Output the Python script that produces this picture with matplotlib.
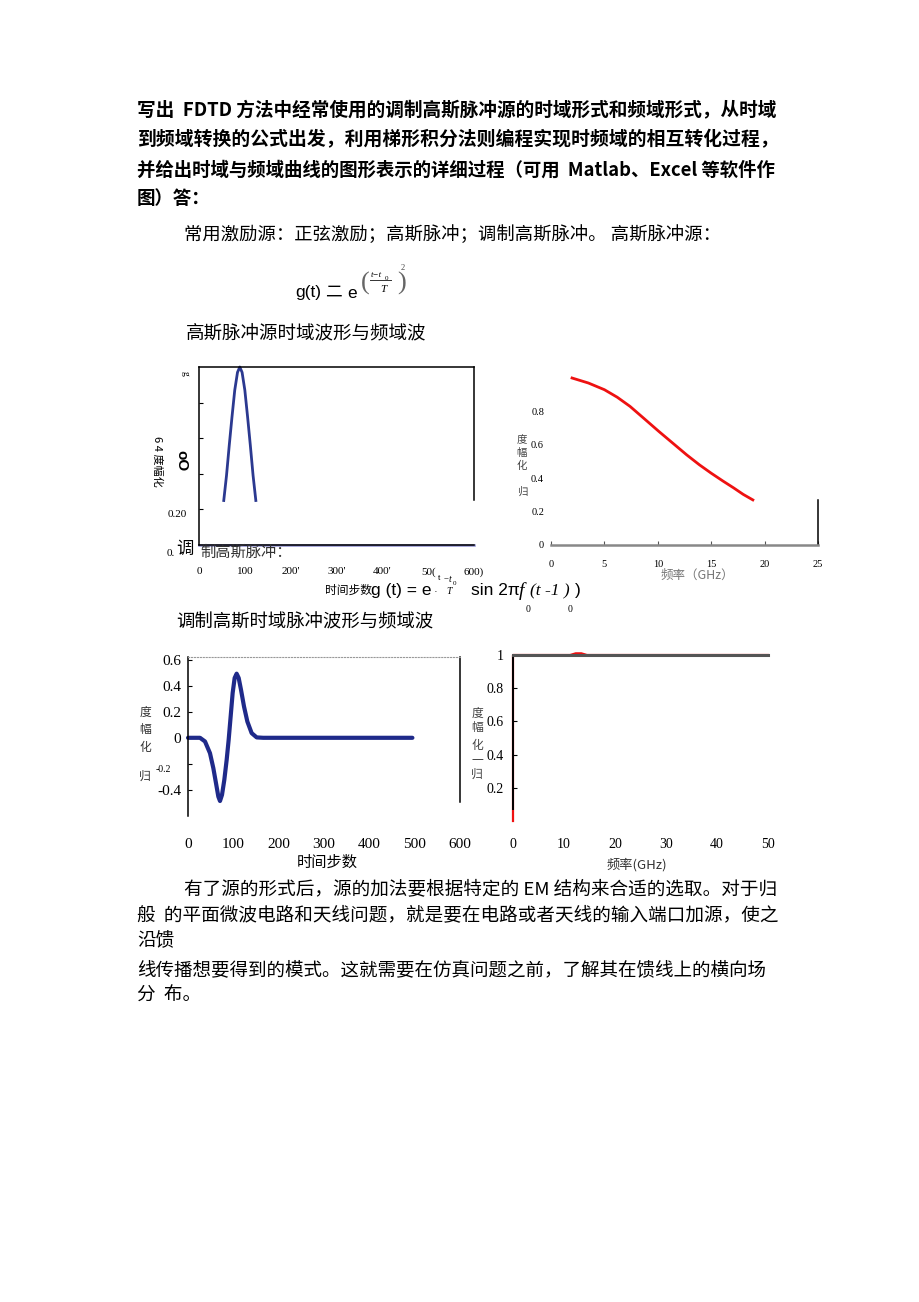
import matplotlib
matplotlib.use('Agg')
import matplotlib.pyplot as plt
from matplotlib.lines import Line2D

W, H = 920, 1302
CJK = ['Noto Sans CJK SC', 'DejaVu Sans']
SERIF = ['Liberation Serif', 'DejaVu Serif']
SANS = ['Liberation Sans', 'DejaVu Sans']

# ---------------- data ----------------
# chart 1: Gaussian pulse, time domain (visible part above ~0.25)
gauss_t = [54, 60, 66, 72, 78, 84, 89, 94, 100, 106, 112, 118, 124]
gauss_v = [0.25, 0.39, 0.56, 0.72, 0.87, 0.97, 1.0, 0.97, 0.87, 0.72, 0.56, 0.39, 0.25]
tail_t = [0, 600]
tail_v = [0.0, 0.0]
time_ticks_1 = [0, 100, 200, 300, 400, 500, 600]
time_labels_1 = ['0', '100', "200'", "300'", "400'", '50(', '600)']

# chart 2: Gaussian pulse, frequency domain
freq_2 = [1.97, 3.5, 5.0, 6.2, 7.4, 8.7, 10.1, 11.4, 12.7, 13.9, 15.0, 16.1, 17.1, 18.0, 18.9]
amp_2 = [1.0, 0.97, 0.93, 0.885, 0.83, 0.758, 0.68, 0.61, 0.54, 0.48, 0.43, 0.383, 0.342, 0.303, 0.27]
freq_ticks_2 = [0, 5, 10, 15, 20, 25]
amp_ticks_2 = [0, 0.2, 0.4, 0.6, 0.8]
amp_labels_2 = ['0', '0.2', '0.4', '0.6', '0.8']

# chart 3: modulated Gaussian, time domain
mod_t = [0, 26.5, 37.5, 48.5, 55.9, 61.8, 66.9, 70.6, 75.0, 80.1, 85.3, 89.7, 94.1,
         98.5, 102.9, 107.3, 111.8, 116.9, 123.5, 130.9, 140.4, 151.5, 166, 495]
mod_v = [0, 0, -0.028, -0.118, -0.233, -0.349, -0.451, -0.485, -0.438, -0.323, -0.169,
         -0.015, 0.164, 0.344, 0.459, 0.492, 0.459, 0.369, 0.241, 0.125, 0.036, 0.003, 0, 0]
time_ticks_3 = [0, 100, 200, 300, 400, 500, 600]
amp_ticks_3 = [0.6, 0.4, 0.2, 0, -0.2, -0.4]
amp_labels_3 = ['0.6', '0.4', '0.2', '0', '', '-0.4']

# chart 4: modulated Gaussian, frequency domain
black_f = [0, 50]
black_v = [1.0, 1.0]
red_f = [0, 0, 11.2, 12.3, 13.4, 14.5, 50]
red_v = [0.0, 1.0, 1.0, 1.01, 1.01, 1.0, 1.0]
freq_ticks_4 = [0, 10, 20, 30, 40, 50]
amp_ticks_4 = [0.2, 0.4, 0.6, 0.8, 1.0]
amp_labels_4 = ['0.2', '0.4', '0.6', '0.8', '1']

# ---------------- figure ----------------
fig = plt.figure(figsize=(W / 100, H / 100), dpi=100)
fig.patch.set_facecolor('white')
renderer = fig.canvas.get_renderer()


def txt(x, y, s, size, family=CJK, ha='left', va='center', **kw):
    return fig.text(x / W, 1 - y / H, s, fontsize=size, family=family, ha=ha, va=va, **kw)


def fit(t, width):
    bb = t.get_window_extent(renderer)
    t.set_fontsize(t.get_fontsize() * width / bb.width)
    return t.get_fontsize()


def axes_px(x0, y0, x1, y1):
    return fig.add_axes([x0 / W, 1 - y1 / H, (x1 - x0) / W, (y1 - y0) / H])


def hline(x0, x1, y, lw=0.8, color='#333'):
    fig.add_artist(Line2D([x0 / W, x1 / W], [1 - y / H, 1 - y / H],
                          transform=fig.transFigure, lw=lw, color=color))


# ---------------- body text ----------------
t1 = txt(137, 111, '写出  FDTD 方法中经常使用的调制高斯脉冲源的时域形式和频域形式，从时域', 13, weight='bold')
fit(t1, 638)
t2 = txt(137, 140, '到频域转换的公式出发，利用梯形积分法则编程实现时频域的相互转化过程，', 13, weight='bold')
fit(t2, 638)
t3 = txt(137, 170, '并给出时域与频域曲线的图形表示的详细过程（可用  Matlab、Excel 等软件作', 13, weight='bold')
s3 = fit(t3, 638)
txt(137, 199, '图）答：', s3, weight='bold')

t5 = txt(184, 235, '常用激励源：正弦激励；高斯脉冲；调制高斯脉冲。 高斯脉冲源：', 13)
fit(t5, 534)

# formula g(t) = e^((t-t0)/T)^2
txt(295, 292, 'g(t)', 12.5, SANS)
txt(325, 292, '二', 12)
txt(347, 294, 'e', 12.5, SANS)
txt(361, 283, '(', 19, SERIF, color='#666')
txt(397, 283, ')', 19, SERIF, color='#666')
txt(371, 275, 't−t', 6.5, SERIF, style='italic')
txt(385, 278, '0', 5, SERIF)
hline(370, 391, 280, lw=0.7)
txt(380, 290, 'T', 8, SERIF, style='italic')
txt(401, 268, '2', 6, SERIF, color='#444')

tc1 = txt(186, 333, '高斯脉冲源时域波形与频域波', 13)
fit(tc1, 240)

# ---------------- chart 1 ----------------
ax1 = axes_px(199, 367, 474, 545)
ax1.set_xlim(0, 600)
ax1.set_ylim(0, 1)
ax1.plot(tail_t, tail_v, color='#8f8fd0', lw=1.8, clip_on=False)
ax1.plot(gauss_t, gauss_v, color='#2b3990', lw=2, clip_on=False)
for s in ax1.spines.values():
    s.set_linewidth(1.1)
ax1.spines['right'].set_bounds(0.25, 1)
ax1.set_xticks(time_ticks_1)
ax1.set_xticklabels(time_labels_1, family=SERIF, fontsize=8)
ax1.tick_params(axis='x', length=0, pad=16)
ax1.set_yticks([0.2, 0.4, 0.6, 0.8])
ax1.set_yticklabels([])
ax1.tick_params(axis='y', direction='in', length=3, width=0.8)

txt(185, 373, 'g', 7, SERIF, ha='center', rotation=270)
txt(157, 461, '6 4 度幅化', 8, CJK, ha='center', rotation=270)
txt(181, 461, 'oO', 11, SANS, ha='center', rotation=270, weight='bold')
txt(187, 515, '0.20', 8, SERIF, ha='right')
txt(175, 553, '0.', 8, SERIF, ha='right')
txt(176, 549, '调', 12.5)
txt(200, 552, '制高斯脉冲：', 11, color='#333')

# formula line under chart 1
txt(325, 590, '时间步数', 8.5)
txt(371, 590, 'g (t) = e', 12.5, SANS)
txt(434, 592, '·', 8, SANS)
txt(438, 578, 't', 6, SANS)
txt(444, 580, '~', 6, SANS)
txt(449, 579, 't', 7, SERIF, style='italic')
txt(453, 583, '0', 5, SERIF)
txt(446, 592, 'T', 7, SERIF, style='italic')
txt(471, 590, 'sin 2π', 12.5, SANS)
txt(519, 591, 'f', 14, SERIF, style='italic')
txt(530, 591, '(t -1 )', 12.5, SERIF, style='italic')
txt(575, 591, ')', 12.5, SANS)
txt(526, 609, '0', 7, SERIF)
txt(568, 609, '0', 7, SERIF)

# ---------------- chart 2 ----------------
ax2 = axes_px(551, 378, 818, 545)
ax2.set_xlim(0, 25)
ax2.set_ylim(0, 1)
ax2.plot(freq_2, amp_2, color='#ee1111', lw=2, clip_on=False)
ax2.spines['left'].set_visible(False)
ax2.spines['top'].set_visible(False)
ax2.spines['right'].set_bounds(0, 0.27)
ax2.spines['right'].set_linewidth(1.1)
ax2.spines['bottom'].set_color('#888888')
ax2.spines['bottom'].set_linewidth(1.8)
ax2.set_xticks(freq_ticks_2)
ax2.set_xticklabels([str(v) for v in freq_ticks_2], family=SERIF, fontsize=7.5)
ax2.tick_params(axis='x', direction='in', length=3, width=0.8, color='#555', pad=11)
ax2.set_yticks(amp_ticks_2)
ax2.set_yticklabels(amp_labels_2, family=SERIF, fontsize=7.5)
ax2.tick_params(axis='y', length=0, pad=5)
for ch, yy in zip('度幅化归', [440, 453, 466, 492]):
    txt(522, yy, ch, 7.5, ha='center', color='#444')
txt(697, 575, '频率（GHz）', 9, ha='center', color='#777')

# ---------------- caption 2 ----------------
tc2 = txt(176, 622, '调制高斯时域脉冲波形与频域波', 13)
fit(tc2, 256)

# ---------------- chart 3 ----------------
ax3 = axes_px(188, 657, 460, 816)
ax3.set_xlim(0, 600)
ax3.set_ylim(-0.6, 0.62)
ax3.plot(mod_t, mod_v, color='#1f2a8a', lw=3, clip_on=False, solid_capstyle='round')
ax3.spines['bottom'].set_visible(False)
ax3.spines['top'].set_linestyle(':')
ax3.spines['top'].set_color('#999999')
ax3.spines['right'].set_bounds(-0.49, 0.62)
ax3.spines['right'].set_linewidth(1.1)
ax3.spines['left'].set_linewidth(1.1)
ax3.set_xticks(time_ticks_3)
ax3.set_xticklabels([str(v) for v in time_ticks_3], family=SERIF, fontsize=11)
ax3.tick_params(axis='x', length=0, pad=16)
ax3.set_yticks(amp_ticks_3)
ax3.set_yticklabels(amp_labels_3, family=SERIF, fontsize=11)
ax3.tick_params(axis='y', direction='in', length=3, width=0.8, pad=5)
for ch, yy in zip('度幅化归', [712, 729, 747, 776]):
    txt(145, yy, ch, 8.5, ha='center', color='#333')
txt(156, 770, '-0.2', 7, SERIF)
txt(327, 862, '时间步数', 11, ha='center')

# ---------------- chart 4 ----------------
ax4 = axes_px(513, 655, 768, 821)
ax4.set_xlim(0, 50)
ax4.set_ylim(0, 1)
ax4.plot(red_f, red_v, color='#ee1111', lw=1.6, clip_on=False, zorder=1)
ax4.plot(black_f, black_v, color='#555555', lw=2.2, clip_on=False, zorder=3)
ax4.spines['right'].set_visible(False)
ax4.spines['bottom'].set_visible(False)
ax4.spines['top'].set_linestyle(':')
ax4.spines['top'].set_color('#aaaaaa')
ax4.spines['left'].set_linewidth(1.4)
ax4.spines['left'].set_bounds(0.07, 1)
ax4.set_xticks(freq_ticks_4)
ax4.set_xticklabels([str(v) for v in freq_ticks_4], family=SERIF, fontsize=10)
ax4.tick_params(axis='x', length=0, pad=12)
ax4.set_yticks(amp_ticks_4)
ax4.set_yticklabels(amp_labels_4, family=SERIF, fontsize=10)
ax4.tick_params(axis='y', direction='in', length=3, width=0.8, pad=7)
for ch, yy in zip('度幅化一归', [713, 728, 745, 760, 774]):
    txt(477, yy, ch, 8.5, ha='center', color='#444')
txt(637, 865, '频率(GHz)', 9.5, ha='center', color='#333')

# ---------------- closing paragraph ----------------
p1 = txt(184, 889, '有了源的形式后，源的加法要根据特定的 EM 结构来合适的选取。对于归', 13)
fit(p1, 591)
p2 = txt(137, 915, '般  的平面微波电路和天线问题，就是要在电路或者天线的输入端口加源，使之', 13)
sp = fit(p2, 638)
txt(137, 940, '沿馈', sp)
p4 = txt(137, 970, '线传播想要得到的模式。这就需要在仿真问题之前，了解其在馈线上的横向场', 13)
fit(p4, 628)
txt(137, 996, '分  布。', sp)

fig.savefig('out.png', dpi=100, facecolor='white')
